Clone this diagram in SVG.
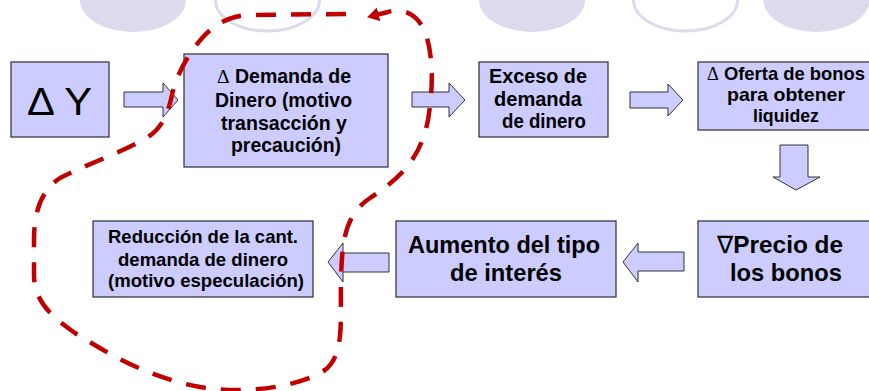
<svg xmlns="http://www.w3.org/2000/svg" width="869" height="391" viewBox="0 0 869 391">
<defs>
<style>
.box{fill:#CCCCFF;stroke:#3c3c3c;stroke-width:1.3}
.arr{fill:#CCCCFF;stroke:#333333;stroke-width:1}
.t{font-family:"Liberation Sans",Arial,sans-serif;font-weight:bold;fill:#000000}
.s{font-family:"Liberation Serif","DejaVu Serif",serif;font-weight:normal}
.n{font-family:"DejaVu Sans",sans-serif;font-weight:normal}
.deco{fill:#DBDBED}
.ring{fill:#FFFFFF;stroke:#DBDBED;stroke-width:3}
.loop{fill:none;stroke:#C00000;stroke-width:4.5;stroke-dasharray:20 15}
</style>
<marker id="ah" markerUnits="userSpaceOnUse" markerWidth="16" markerHeight="16" refX="11" refY="7" orient="auto">
<path d="M0,0 L12,7 L0,14 Z" fill="#C00000"/>
</marker>
</defs>
<rect width="869" height="391" fill="#FFFFFF"/>
<g id="decoration">
<ellipse class="deco" cx="133" cy="0" rx="53" ry="32"/>
<ellipse class="ring" cx="267.5" cy="0" rx="52" ry="31"/>
<ellipse class="deco" cx="532" cy="0" rx="53" ry="32"/>
<ellipse class="ring" cx="685.5" cy="0" rx="52" ry="31"/>
<ellipse class="deco" cx="816.5" cy="0" rx="53" ry="32"/>
</g>
<g id="node-dy">
<rect class="box" x="11" y="62" width="98" height="75"/>
<text x="27" y="115" textLength="65" lengthAdjust="spacingAndGlyphs" style="font-family:'Liberation Sans',Arial,sans-serif;font-size:38px;fill:#000">Δ Y</text>
</g>
<g id="node-demanda">
<rect class="box" x="184" y="54" width="204" height="113"/>
<text class="t" font-size="19.5" x="217" y="83" textLength="134" lengthAdjust="spacingAndGlyphs"><tspan class="s">Δ</tspan> Demanda de</text>
<text class="t" font-size="19.5" x="215" y="107" textLength="137" lengthAdjust="spacingAndGlyphs">Dinero (motivo</text>
<text class="t" font-size="19.5" x="221" y="130" textLength="126" lengthAdjust="spacingAndGlyphs">transacción y</text>
<text class="t" font-size="19.5" x="231" y="152" textLength="110" lengthAdjust="spacingAndGlyphs">precaución)</text>
</g>
<g id="node-exceso">
<rect class="box" x="479" y="62" width="129" height="75"/>
<text class="t" font-size="19.5" x="489" y="83" textLength="98" lengthAdjust="spacingAndGlyphs">Exceso de</text>
<text class="t" font-size="19.5" x="494" y="106" textLength="88" lengthAdjust="spacingAndGlyphs">demanda</text>
<text class="t" font-size="19.5" x="502" y="128" textLength="84" lengthAdjust="spacingAndGlyphs">de dinero</text>
</g>
<g id="node-oferta">
<rect class="box" x="698" y="62" width="180" height="68"/>
<text class="t" font-size="19" x="707" y="80" textLength="158" lengthAdjust="spacingAndGlyphs"><tspan class="s">Δ</tspan> Oferta de bonos</text>
<text class="t" font-size="19" x="727" y="101" textLength="118" lengthAdjust="spacingAndGlyphs">para obtener</text>
<text class="t" font-size="19" x="753" y="122" textLength="66" lengthAdjust="spacingAndGlyphs">liquidez</text>
</g>
<g id="node-precio">
<rect class="box" x="698" y="221" width="180" height="76"/>
<text class="t" font-size="24" x="717" y="253" textLength="126" lengthAdjust="spacingAndGlyphs"><tspan class="n">∇</tspan>Precio de</text>
<text class="t" font-size="24" x="730" y="281" textLength="112" lengthAdjust="spacingAndGlyphs">los bonos</text>
</g>
<g id="node-aumento">
<rect class="box" x="396" y="221" width="220" height="76"/>
<text class="t" font-size="24" x="408" y="253" textLength="192" lengthAdjust="spacingAndGlyphs">Aumento del tipo</text>
<text class="t" font-size="24" x="450" y="281" textLength="112" lengthAdjust="spacingAndGlyphs">de interés</text>
</g>
<g id="node-reduccion">
<rect class="box" x="93" y="221" width="220" height="76"/>
<text class="t" font-size="18.5" x="108" y="243" textLength="190" lengthAdjust="spacingAndGlyphs">Reducción de la cant.</text>
<text class="t" font-size="18.5" x="118" y="266" textLength="170" lengthAdjust="spacingAndGlyphs">demanda de dinero</text>
<text class="t" font-size="18.5" x="108" y="287" textLength="196" lengthAdjust="spacingAndGlyphs">(motivo especulación)</text>
</g>
<g id="connectors">
<polygon class="arr" points="124,92 163,92 163,83 178,100 163,117 163,107 124,107"/>
<polygon class="arr" points="412,92 449,92 449,83 465,100 449,117 449,107 412,107"/>
<polygon class="arr" points="630,92 668,92 668,84 683,100 668,116 668,108 630,108"/>
<polygon class="arr" points="780,145 808,145 808,177 820,177 796,190 773,177 780,177"/>
<polygon class="arr" points="684,252 684,271 638,271 638,282 623,262 638,243 638,252"/>
<polygon class="arr" points="389,253 389,272 343,272 343,282 328,262 343,243 343,253"/>
<g id="loop">
<path class="loop" marker-end="url(#ah)" d="M 346 14 L 252 15 C 230 15, 215 24, 203 37 C 190 52, 178 70, 172 95 C 167 118, 160 130, 145 139 C 120 153, 85 165, 60 178 C 42 190, 34 210, 34 240 L 34 275 C 34 300, 50 316, 75 333 C 110 355, 150 378, 200 387 C 250 395, 300 386, 325 370 C 345 355, 340 320, 341 280 C 342 240, 345 215, 370 198 C 400 178, 420 160, 428 120 C 434 85, 433 50, 424 30 C 416 12, 400 8, 388 12 L 368 17"/>
</g>
</g>
</svg>
